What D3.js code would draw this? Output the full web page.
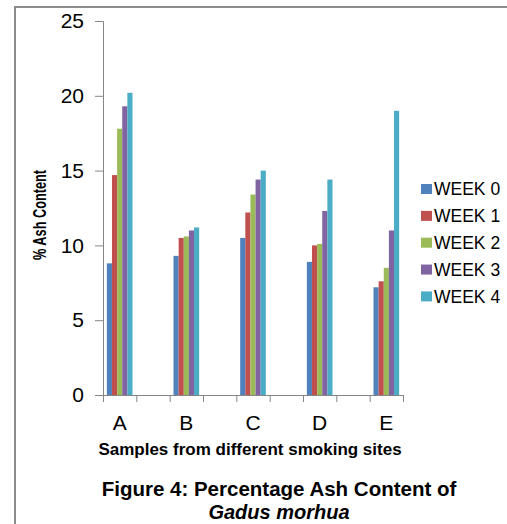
<!DOCTYPE html>
<html>
<head>
<meta charset="utf-8">
<script src="https://cdn.jsdelivr.net/npm/d3@7"></script>
<style>
  html, body { margin: 0; padding: 0; background: #fff; }
  svg { display: block; font-family: "Liberation Sans", Arial, sans-serif; }
</style>
</head>
<body>
<svg id="chart" width="507" height="524"></svg>
<script>
// Sampling sites and the weekly ash readings (%) for each site
const categories = ["A", "B", "C", "D", "E"];
const seriesNames = ["WEEK 0", "WEEK 1", "WEEK 2", "WEEK 3", "WEEK 4"];
const week0 = [8.8, 9.3, 10.5, 8.9, 7.2];
const week1 = [14.7, 10.5, 12.2, 10.0, 7.6];
const week2 = [17.8, 10.6, 13.4, 10.1, 8.5];
const week3 = [19.3, 11.0, 14.4, 12.3, 11.0];
const week4 = [20.2, 11.2, 15.0, 14.4, 19.0];
const yTicks = [0, 5, 10, 15, 20, 25];
const colors = ["#4F81BD", "#C0504D", "#9BBB59", "#8064A2", "#4BACC6"];

const seriesValues = [week0, week1, week2, week3, week4];

const svg = d3.select("#chart");

// Outer frame of the figure
svg.append("rect")
  .attr("x", 15).attr("y", 7)
  .attr("width", 700).attr("height", 700)
  .attr("fill", "none")
  .attr("stroke", "#8c8c8c")
  .attr("stroke-width", 2);

// Category slots: each site is followed by an empty slot, as on the axis
const slots = [];
categories.forEach((c, i) => {
  slots.push(c);
  if (i < categories.length - 1) slots.push("gap" + i);
});

const plot = { left: 103, right: 403, top: 21, bottom: 395 };

const x = d3.scaleBand()
  .domain(slots)
  .range([plot.left, plot.right])
  .paddingInner(0).paddingOuter(0);

const xInner = d3.scaleBand()
  .domain(seriesNames)
  .range([0, x.bandwidth()])
  .paddingInner(0)
  .paddingOuter(0.75);

const y = d3.scaleLinear()
  .domain([0, 25])
  .range([plot.bottom, plot.top]);

// Bars
const groups = svg.append("g").selectAll("g")
  .data(categories)
  .join("g")
  .attr("transform", d => `translate(${x(d)},0)`);

groups.selectAll("rect")
  .data((d, ci) => seriesNames.map((s, si) => ({ s, si, v: seriesValues[si][ci] })))
  .join("rect")
  .attr("x", d => xInner(d.s))
  .attr("y", d => y(d.v))
  .attr("width", xInner.bandwidth())
  .attr("height", d => y(0) - y(d.v))
  .attr("fill", d => colors[d.si]);

// Y axis
const yAxis = svg.append("g")
  .attr("transform", `translate(${plot.left},0)`)
  .call(d3.axisLeft(y).tickValues(yTicks).tickSize(8).tickSizeOuter(8).tickPadding(11));
yAxis.selectAll("path, line").attr("stroke", "#868686");
yAxis.selectAll("text")
  .attr("font-size", 21)
  .attr("font-family", "'Liberation Sans', Arial, sans-serif")
  .attr("fill", "#000");

// X axis: boundary ticks between slots
const slotIndex = d3.scaleLinear().domain([0, slots.length]).range([plot.left, plot.right]);
const xTickAxis = svg.append("g")
  .attr("transform", `translate(0,${plot.bottom})`)
  .call(d3.axisBottom(slotIndex).tickValues(d3.range(slots.length + 1))
    .tickSize(7).tickSizeOuter(7).tickFormat(""));
xTickAxis.selectAll("path, line").attr("stroke", "#868686");

// X axis: category labels centred in their slots
const xLabelAxis = svg.append("g")
  .attr("transform", `translate(0,${plot.bottom})`)
  .call(d3.axisBottom(x).tickSize(0).tickPadding(20)
    .tickFormat(d => categories.includes(d) ? d : ""));
xLabelAxis.select(".domain").remove();
xLabelAxis.selectAll("text")
  .attr("font-size", 21)
  .attr("font-family", "'Liberation Sans', Arial, sans-serif")
  .attr("fill", "#000");

// Axis titles
svg.append("text")
  .attr("x", 250).attr("y", 455)
  .attr("text-anchor", "middle")
  .attr("font-size", 17)
  .attr("font-weight", "bold")
  .text("Samples from different smoking sites");

svg.append("text")
  .attr("transform", "translate(45.5,215) rotate(-90)")
  .attr("text-anchor", "middle")
  .attr("font-size", 17.5)
  .attr("font-weight", "bold")
  .attr("textLength", 90)
  .attr("lengthAdjust", "spacingAndGlyphs")
  .text("% Ash Content");

// Legend
const legend = svg.append("g").attr("transform", "translate(421,189)");
const rows = legend.selectAll("g")
  .data(seriesNames)
  .join("g")
  .attr("transform", (d, i) => `translate(0,${i * 26.85})`);
rows.append("rect")
  .attr("x", 0).attr("y", -5)
  .attr("width", 11).attr("height", 10)
  .attr("fill", (d, i) => colors[i]);
rows.append("text")
  .attr("x", 13).attr("y", 0)
  .attr("dy", "0.36em")
  .attr("font-size", 17.5)
  .attr("fill", "#000")
  .text(d => d);

// Caption
svg.append("text")
  .attr("x", 279).attr("y", 495.5)
  .attr("text-anchor", "middle")
  .attr("font-size", 20.5)
  .attr("font-weight", "bold")
  .text("Figure 4: Percentage Ash Content of");
svg.append("text")
  .attr("x", 279).attr("y", 519)
  .attr("text-anchor", "middle")
  .attr("font-size", 20)
  .attr("font-weight", "bold")
  .attr("font-style", "italic")
  .text("Gadus morhua");
</script>
</body>
</html>
